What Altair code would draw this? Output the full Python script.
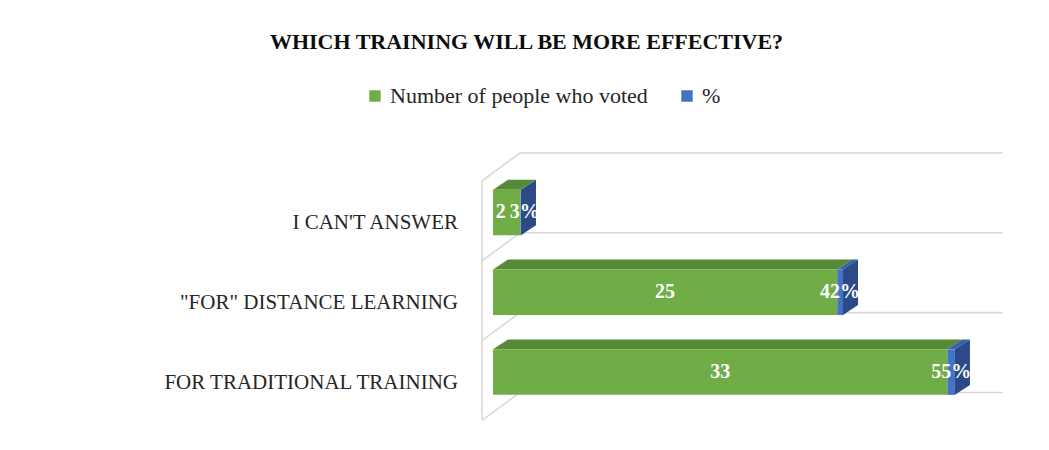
import altair as alt
import pandas as pd

# ---- data ----
categories = ["I CAN'T ANSWER", "\"FOR\" DISTANCE LEARNING", "FOR TRADITIONAL TRAINING"]
votes = [2, 25, 33]
percents = [0.03, 0.42, 0.55]
series = ["Number of people who voted", "%"]
title_text = "WHICH TRAINING WILL BE MORE EFFECTIVE?"

# ---- styles ----
SERIF = "Liberation Serif"
GREEN, GREEN_TOP = "#70AD47", "#578A37"
BLUE, BLUE_TOP, BLUE_SIDE = "#4472C4", "#3A62AA", "#2C4A87"
GRID = "#D9D9D9"
TEXT = "#262626"

# ---- 3-D geometry (data units) ----
X_MIN, X_MAX = -0.8, 37.04
Y_MAX = 3.37
FRONT_TOP, FRONT_BOT = 0.46, 1.03
DX, DY = 1.09, 0.125          # bar depth offset
WALL_DX, WALL_DY = 2.76, 0.35  # wall depth offset
LABEL_SHIFT = 0.88
SMALL = 4                      # bars shorter than this get their labels nudged apart
NUDGE_L, NUDGE_R = 0.44, 0.29

xs = alt.Scale(domain=[X_MIN, X_MAX], nice=False, zero=False)
ys = alt.Scale(domain=[0, Y_MAX], reverse=True, nice=False, zero=False)


def top_face(x0, w, yf):
    pts = []
    for x in sorted({x0, x0 + w, x0 + DX, x0 + w + DX}):
        tmax = min(1.0, (x - x0) / DX)
        tmin = max(0.0, (x - x0 - w) / DX)
        pts.append((x, yf - DY * tmax, yf - DY * tmin))
    return pts


fronts, faces, values, labels = [], [], [], []
for i, (cat, n, p) in enumerate(zip(categories, votes, percents)):
    yf, yb = i + FRONT_TOP, i + FRONT_BOT
    segs = [(0, n, series[0], GREEN_TOP), (n, p, series[1], BLUE_TOP)]
    for k, (x0, w, s, topc) in enumerate(segs):
        fronts.append({"x": x0, "x2": x0 + w, "y": yf, "y2": yb, "series": s, "order": k})
        for (x, a, b) in top_face(x0, w, yf):
            faces.append({"id": f"top{i}{k}", "x": x, "ya": a, "yb": b, "fill": topc})
    x1 = n + p
    faces.append({"id": f"side{i}", "x": x1, "ya": yf, "yb": yb, "fill": BLUE_SIDE})
    faces.append({"id": f"side{i}", "x": x1 + DX, "ya": yf - DY, "yb": yb - DY, "fill": BLUE_SIDE})
    nl = NUDGE_L if n < SMALL else 0
    nr = NUDGE_R if n < SMALL else 0
    values.append({"x": n / 2 - nl, "y": (yf + yb) / 2, "t": f"{n}"})
    values.append({"x": n + p / 2 + nr, "y": (yf + yb) / 2, "t": f"{round(p * 100)}%"})
    labels.append({"cat": cat, "y": i + LABEL_SHIFT})

walls = []
levels = len(categories) + 1
for k in range(levels):
    walls.append({"x": X_MIN + WALL_DX, "x2": X_MAX, "y": k, "y2": k})
    walls.append({"x": X_MIN, "x2": X_MIN + WALL_DX, "y": k + WALL_DY, "y2": k})
walls.append({"x": X_MIN, "x2": X_MIN, "y": WALL_DY, "y2": levels - 1 + WALL_DY})

wall_layer = alt.Chart(pd.DataFrame(walls)).mark_rule(color=GRID, strokeWidth=1.6).encode(
    x=alt.X("x:Q", scale=xs, axis=None), x2="x2:Q",
    y=alt.Y("y:Q", scale=ys, axis=None), y2="y2:Q",
)

face_layer = alt.Chart(pd.DataFrame(faces)).mark_area(orient="vertical", interpolate="linear").encode(
    x=alt.X("x:Q", scale=xs, axis=None),
    y=alt.Y("ya:Q", scale=ys, axis=None), y2="yb:Q",
    detail="id:N",
    color=alt.Color("fill:N", scale=None),
)

front_layer = alt.Chart(pd.DataFrame(fronts)).mark_rect().encode(
    x=alt.X("x:Q", scale=xs, axis=None), x2="x2:Q",
    y=alt.Y("y:Q", scale=ys, axis=None), y2="y2:Q",
    color=alt.Color(
        "series:N",
        scale=alt.Scale(domain=series, range=[GREEN, BLUE]),
        legend=alt.Legend(
            title=None, orient="none", direction="horizontal",
            legendX=-118, legendY=-68, symbolType="square", symbolSize=130,
            symbolStrokeWidth=0, labelFont=SERIF, labelFontSize=22, labelColor=TEXT,
            labelLimit=500, columnPadding=28, labelOffset=4,
        ),
    ),
    order="order:Q",
)

value_layer = alt.Chart(pd.DataFrame(values)).mark_text(
    font=SERIF, fontSize=20, fontWeight="bold", color="white", baseline="middle", align="center"
).encode(
    x=alt.X("x:Q", scale=xs, axis=None),
    y=alt.Y("y:Q", scale=ys, axis=None),
    text="t:N",
)

label_layer = alt.Chart(pd.DataFrame(labels)).mark_text(
    font=SERIF, fontSize=21, color=TEXT, baseline="middle", align="right"
).encode(
    x=alt.value(-24),
    y=alt.Y("y:Q", scale=ys, axis=None),
    text="cat:N",
)

chart = alt.layer(wall_layer, face_layer, front_layer, value_layer, label_layer).properties(
    width=521, height=269,
    padding={"left": 482, "top": 153, "right": 46, "bottom": 28},
    autosize="none",
    background="white",
    title=alt.TitleParams(
        text=title_text, font=SERIF, fontSize=22, fontWeight="bold", color="#0D0D0D",
        anchor="middle", frame="group", dx=-216, dy=-27,
    ),
).configure_view(stroke=None)

chart.save("out.html", embed_options={"renderer": "svg", "actions": False})
